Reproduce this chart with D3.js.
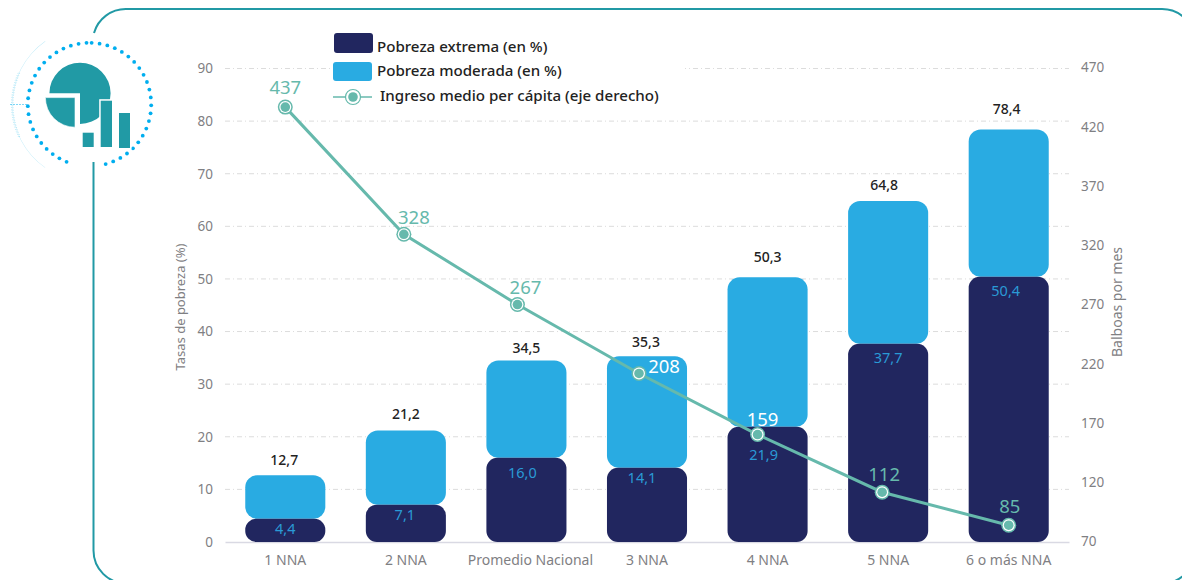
<!DOCTYPE html>
<html lang="es">
<head>
    <meta charset="UTF-8">
    <script src="https://d3js.org/d3.v7.min.js"></script>
    <title>Pobreza e ingreso por número de NNA</title>
    <style>
        html, body { margin: 0; padding: 0; background: #fff; }
        svg { display: block; font-family: "Noto Sans", sans-serif; }
        .tick text, .axis-title { fill: #7f8083; font-size: 13.5px; }
        .eje-x .tick text { font-size: 14px; }
        .legend-label { fill: #222; font-size: 15.1px; font-weight: 500; }
        .total-label { fill: #222; font-size: 14px; font-weight: 500; text-anchor: middle; }
        .extrema-label { fill: #2a9ad6; font-size: 14.5px; text-anchor: middle; }
        .ingreso-label { font-size: 18.5px; text-anchor: middle; }
    </style>
</head>
<body>
<svg width="1182" height="580"></svg>
<script>
    const categorias = ["1 NNA", "2 NNA", "Promedio Nacional", "3 NNA", "4 NNA", "5 NNA", "6 o más NNA"];
    const extrema = [4.4, 7.1, 16.0, 14.1, 21.9, 37.7, 50.4];
    const moderada = [8.3, 14.1, 18.5, 21.2, 28.4, 27.1, 28.0];
    const totales = [12.7, 21.2, 34.5, 35.3, 50.3, 64.8, 78.4];
    const ingreso = [437, 328, 267, 208, 159, 112, 85];
    const ticksIzq = [0, 10, 20, 30, 40, 50, 60, 70, 80, 90];
    const ticksDer = [70, 120, 170, 220, 270, 320, 370, 420, 470];
    const leyenda = ["Pobreza extrema (en %)", "Pobreza moderada (en %)", "Ingreso medio per cápita (eje derecho)"];

    const colExtrema = "#21265f", colModerada = "#29abe2", colLinea = "#66b9ac", colMarco = "#2199a5";
    const coma = d3.format(".1f");
    const fmt = d => coma(d).replace(".", ",");

    const svg = d3.select("svg");

    const x = d3.scaleBand().domain(categorias).range([225, 1069]).paddingInner(0.336).paddingOuter(0.168);
    const y = d3.scaleLinear().domain([0, 90]).range([542, 68.5]);
    const y2 = d3.scaleLinear().domain([70, 470]).range([541.5, 67.5]);

    // marco, abierto a la izquierda donde va el icono
    svg.append("path")
        .attr("d", "M94,33 A33,33 0 0 1 126,9 H1162 A33,33 0 0 1 1195,42 V550.5 A33,33 0 0 1 1162,583.5 H126.5 A33,33 0 0 1 93.5,550.5 V162")
        .attr("fill", "none").attr("stroke", colMarco).attr("stroke-width", 2);

    drawIcon(svg.append("g").attr("transform", "translate(89.5,104.5)"));

    // rejilla
    svg.append("g").selectAll("line").data(ticksIzq.slice(1)).join("line")
        .attr("x1", 225).attr("x2", 1069)
        .attr("y1", d => y(d)).attr("y2", d => y(d))
        .attr("stroke", "#dcdcdc").attr("stroke-dasharray", "5 3 1 3");
    svg.append("rect").attr("x", 330).attr("y", 25).attr("width", 355).attr("height", 85).attr("fill", "#fff");

    // ejes
    const ejeIzq = svg.append("g").attr("transform", "translate(225,0)")
        .call(d3.axisLeft(y).tickValues(ticksIzq).tickSize(0).tickPadding(12));
    const ejeDer = svg.append("g").attr("transform", "translate(1069,0)")
        .call(d3.axisRight(y2).tickValues(ticksDer).tickSize(0).tickPadding(12));
    const ejeX = svg.append("g").attr("class", "eje-x").attr("transform", "translate(0,542)")
        .call(d3.axisBottom(x).tickSize(0).tickPadding(13.5));
    ejeIzq.select(".domain").remove();
    ejeDer.select(".domain").remove();
    ejeX.select(".domain").attr("stroke", "#d9d9e3").attr("stroke-width", 1.5);
    ejeX.selectAll(".tick text").attr("dx", d => d === "Promedio Nacional" ? 4 : 0);
    svg.selectAll("g[font-family]").attr("font-family", null).attr("font-size", null);

    svg.append("text").attr("class", "axis-title")
        .attr("transform", "translate(185,307) rotate(-90)").attr("text-anchor", "middle")
        .style("font-size", "13px")
        .text("Tasas de pobreza (%)");
    svg.append("text").attr("class", "axis-title")
        .attr("transform", "translate(1122,302) rotate(-90)").attr("text-anchor", "middle")
        .style("font-size", "14px")
        .text("Balboas por mes");

    // barras
    svg.append("g").selectAll("rect").data(categorias).join("rect")
        .attr("x", d => x(d)).attr("width", x.bandwidth())
        .attr("y", (d, i) => y(extrema[i] + moderada[i]))
        .attr("height", (d, i) => y(extrema[i]) - y(extrema[i] + moderada[i]))
        .attr("rx", 12).attr("fill", colModerada);
    svg.append("g").selectAll("rect").data(categorias).join("rect")
        .attr("x", d => x(d)).attr("width", x.bandwidth())
        .attr("y", (d, i) => y(extrema[i]))
        .attr("height", (d, i) => y(0) - y(extrema[i]))
        .attr("rx", 11).attr("fill", colExtrema);

    // etiquetas de barras, ajustadas a mano como en el original
    const dyTotal = [-10, -11, -7, -9, -15, -11, -16];
    const dxTotal = [-1, 0, 0, -1, 0, -4, -2];
    const dyExtrema = [15, 15, 20, 15, 33, 19, 19];
    const dxExtrema = [0, -1, -4, -5, -4, 0, -3];
    svg.append("g").selectAll("text").data(totales).join("text")
        .attr("class", "total-label")
        .attr("x", (d, i) => x(categorias[i]) + x.bandwidth() / 2 + dxTotal[i])
        .attr("y", (d, i) => y(d) + dyTotal[i])
        .text(fmt);
    svg.append("g").selectAll("text").data(extrema).join("text")
        .attr("class", "extrema-label")
        .attr("x", (d, i) => x(categorias[i]) + x.bandwidth() / 2 + dxExtrema[i])
        .attr("y", (d, i) => y(d) + dyExtrema[i])
        .text(fmt);

    // linea de ingreso: los puntos no caen justo en el centro de la barra ni en la escala
    const dxPunto = [0, -2, -9, -8, -10, -6, 0];
    const dyPunto = [0.5, -1.5, -3.5, -4.5, -1.5, 0.5, 1.5];
    const xPunto = i => x(categorias[i]) + x.bandwidth() / 2 + dxPunto[i];
    const yPunto = (d, i) => y2(d) + dyPunto[i];
    const linea = d3.line().x((d, i) => xPunto(i)).y(yPunto);
    svg.append("path").datum(ingreso).attr("d", linea)
        .attr("fill", "none").attr("stroke", colLinea).attr("stroke-width", 3);
    const puntos = svg.append("g").selectAll("g").data(ingreso).join("g")
        .attr("transform", (d, i) => `translate(${xPunto(i)},${yPunto(d, i)})`);
    puntos.append("circle").attr("r", 7.5).attr("fill", colLinea);
    puntos.append("circle").attr("r", 6).attr("fill", "#fff");
    puntos.append("circle").attr("r", 4.8).attr("fill", colLinea);

    const dxIng = [0, 10, 8, 25, 5, 2, 1];
    const dyIng = [-13, -10, -11, 0, -9, -11, -12];
    const colIng = [colLinea, colLinea, colLinea, "#fff", "#fff", colLinea, colLinea];
    svg.append("g").selectAll("text").data(ingreso).join("text")
        .attr("class", "ingreso-label")
        .attr("x", (d, i) => xPunto(i) + dxIng[i])
        .attr("y", (d, i) => yPunto(d, i) + dyIng[i])
        .attr("fill", (d, i) => colIng[i])
        .text(d => d);

    // leyenda
    svg.append("rect").attr("x", 334).attr("y", 33).attr("width", 39).attr("height", 20).attr("rx", 3).attr("fill", colExtrema);
    svg.append("rect").attr("x", 333).attr("y", 62).attr("width", 39).attr("height", 19).attr("rx", 3).attr("fill", colModerada);
    svg.append("line").attr("x1", 333).attr("x2", 372).attr("y1", 97).attr("y2", 97).attr("stroke", colLinea).attr("stroke-width", 1.5);
    svg.append("circle").attr("cx", 353).attr("cy", 97).attr("r", 7.5).attr("fill", "#fff").attr("stroke", colLinea).attr("stroke-width", 1.2);
    svg.append("circle").attr("cx", 353).attr("cy", 97).attr("r", 4.8).attr("fill", colLinea);
    svg.append("g").selectAll("text").data(leyenda).join("text")
        .attr("class", "legend-label")
        .attr("x", (d, i) => [377, 377, 380][i])
        .attr("y", (d, i) => [52, 76, 101][i])
        .text(d => d);

    function drawIcon(g) {
        const verde = "#219aa5", azul = "#00aeef";
        // anillo de puntos, con hueco abajo donde pasa el marco
        const angulos = d3.range(2, 362, 7.4).filter(a => a < 170 || a > 195);
        g.selectAll("circle.punto").data(angulos).join("circle")
            .attr("class", "punto")
            .attr("cx", a => 61.7 * Math.sin(a * Math.PI / 180))
            .attr("cy", a => -61.7 * Math.cos(a * Math.PI / 180))
            .attr("r", 1.9).attr("fill", azul);
        // arco fino exterior y marca de la izquierda
        g.append("path")
            .attr("d", d3.arc().innerRadius(77).outerRadius(77.4).startAngle(-2.53).endAngle(-0.61)())
            .attr("fill", "#bfeaf7");
        g.append("path")
            .attr("d", d3.arc().innerRadius(76.5).outerRadius(78).startAngle(-2).endAngle(-1.15)())
            .attr("fill", "none").attr("stroke", "#7fd6f2").attr("stroke-width", 0.6).attr("stroke-dasharray", "1 1.5");
        g.append("line").attr("x1", -79).attr("x2", -62).attr("y1", 0).attr("y2", 0)
            .attr("stroke", azul).attr("stroke-width", 1).attr("stroke-dasharray", "1 2");
        // grafica del icono
        const pie = g.append("g").attr("transform", "translate(-9.5,-11.2)");
        pie.append("path")
            .attr("d", d3.arc().innerRadius(0).outerRadius(30.6).startAngle(-Math.PI / 2).endAngle(Math.PI)())
            .attr("fill", verde);
        pie.append("path").attr("transform", "translate(-5,4.3)")
            .attr("d", d3.arc().innerRadius(0).outerRadius(29.6).startAngle(Math.PI).endAngle(Math.PI * 1.5)())
            .attr("fill", verde).attr("stroke", "#fff").attr("stroke-width", 0.6);
        [[-6.8, 28.2, 11, 14.3], [11.2, -3.8, 11.3, 46.3], [29.5, 8.5, 11, 35]].forEach(b => {
            g.append("rect").attr("x", b[0] - 1.5).attr("y", b[1] - 1.5).attr("width", b[2] + 3).attr("height", b[3] + 3)
                .attr("fill", "#fff");
            g.append("rect").attr("x", b[0]).attr("y", b[1]).attr("width", b[2]).attr("height", b[3])
                .attr("fill", verde);
        });
    }
</script>
</body>
</html>
